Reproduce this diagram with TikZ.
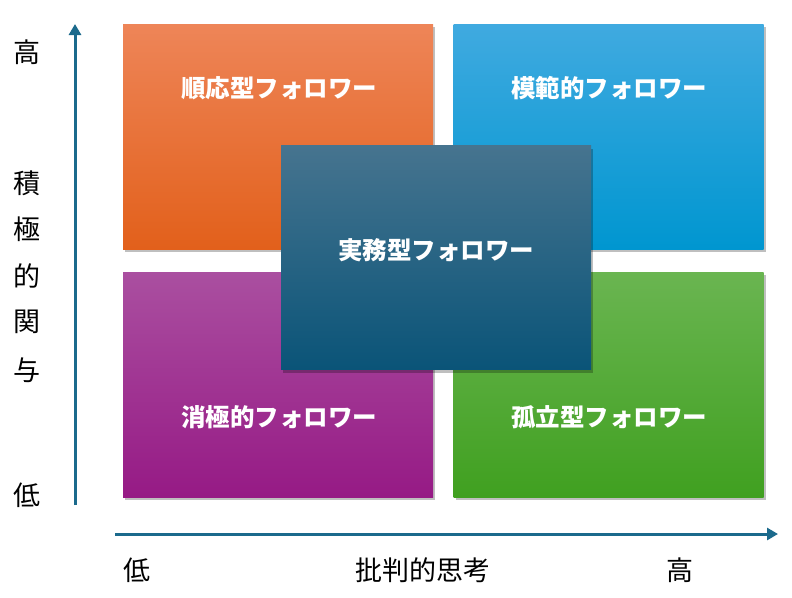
\documentclass[tikz,border=0pt]{standalone}
\usepackage{fontspec}
\setmainfont{Noto Sans CJK JP}
\usetikzlibrary{shadows,arrows.meta}
\definecolor{axisc}{HTML}{1B6A8C}
\definecolor{orT}{HTML}{EE8558}\definecolor{orM}{HTML}{F0712E}\definecolor{orB}{HTML}{E2601B}
\definecolor{blT}{HTML}{40AAE0}\definecolor{blM}{HTML}{12A0DC}\definecolor{blB}{HTML}{0096D0}
\definecolor{puT}{HTML}{AA4FA0}\definecolor{puM}{HTML}{A2269A}\definecolor{puB}{HTML}{961A85}
\definecolor{grT}{HTML}{6AB551}\definecolor{grM}{HTML}{52AE32}\definecolor{grB}{HTML}{40A020}
\definecolor{ceT}{HTML}{46748F}\definecolor{ceM}{HTML}{1B6285}\definecolor{ceB}{HTML}{0A5478}
\tikzset{
  quad/.style={rectangle, minimum width=310pt, minimum height=225pt, inner sep=0pt,
    drop shadow={shadow xshift=2pt, shadow yshift=-3pt, opacity=0.25, fill=black}},
  qlabel/.style={text=white, font=\bfseries\fontsize{24.5pt}{26pt}\selectfont, inner sep=0pt},
  axlabel/.style={text=black, font=\fontsize{27pt}{29pt}\selectfont, inner sep=0pt},
  axis/.style={draw=axisc, line width=3pt, -{Triangle[length=11pt,width=12pt]}}
}
\begin{document}
\begin{tikzpicture}[x=1pt,y=-1pt]
\useasboundingbox (0,0) rectangle (792,597);
\fill[white] (0,0) rectangle (792,597);
% quadrants
\node[quad, top color=orT, middle color=orM, bottom color=orB] (conf) at (278,136.5) {};
\node[quad, top color=blT, middle color=blM, bottom color=blB] (model) at (608.5,136.5) {};
\node[quad, top color=puT, middle color=puM, bottom color=puB] (pass) at (278,384.5) {};
\node[quad, top color=grT, middle color=grM, bottom color=grB] (alien) at (608.5,384.5) {};
\node[quad, minimum height=224pt, top color=ceT, middle color=ceM, bottom color=ceB] (prag) at (436,257.5) {};
% quadrant labels
\node[qlabel] (tconf) at (279,88) {順応型フォロワー};
\node[qlabel] (tmodel) at (609,88) {模範的フォロワー};
\node[qlabel] (tprag) at (436,250) {実務型フォロワー};
\node[qlabel] (tpass) at (279,417) {消極的フォロワー};
\node[qlabel] (talien) at (609,417) {孤立型フォロワー};
% axes
\coordinate (vs) at (75,505);
\coordinate (ve) at (75,24);
\draw[axis] (vs) -- (ve);
\coordinate (hs) at (115,534);
\coordinate (he) at (778,534);
\draw[axis] (hs) -- (he);
% axis labels
\node[axlabel] (yhi) at (27,52) {高};
\node[axlabel] (y1) at (27,183) {積};
\node[axlabel] (y2) at (27,229) {極};
\node[axlabel] (y3) at (27,276) {的};
\node[axlabel] (y4) at (27,322) {関};
\node[axlabel] (y5) at (27,370) {与};
\node[axlabel] (ylo) at (27,495) {低};
\node[axlabel] (xlo) at (137,570) {低};
\node[axlabel] (xt) at (423,570) {批判的思考};
\node[axlabel] (xhi) at (680,570) {高};
\end{tikzpicture}
\end{document}
